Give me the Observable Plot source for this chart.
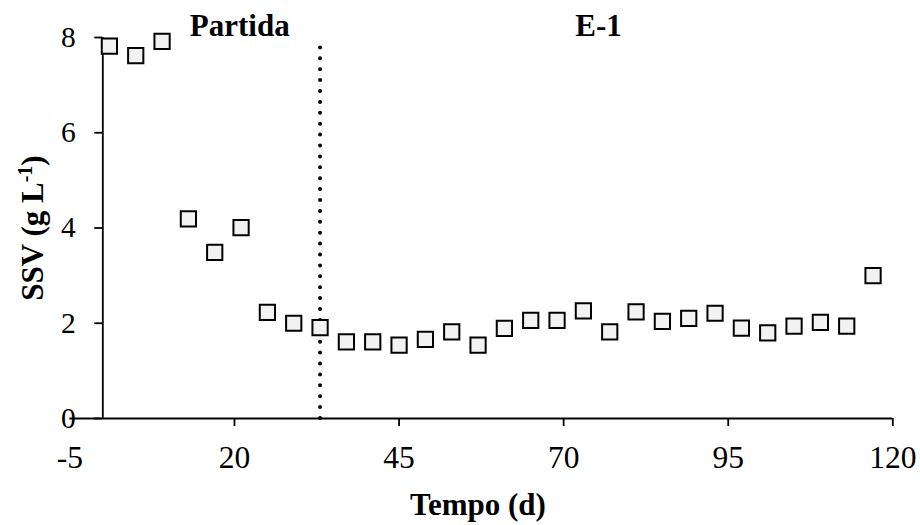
<!DOCTYPE html>
<html><head><meta charset="utf-8">
<script src="https://cdn.jsdelivr.net/npm/d3@7"></script>
<script src="https://cdn.jsdelivr.net/npm/@observablehq/plot@0.6"></script>
<style>body{margin:0;background:#fff}#chart{width:920px;height:525px}</style>
</head><body><div id="chart"></div>
<script>
const days = [1,5,9,13,17,21,25,29,33,37,41,45,49,53,57,61,65,69,73,77,81,85,89,93,97,101,105,109,113,117];
const ssv = [7.82,7.62,7.92,4.19,3.49,4.01,2.23,2.00,1.91,1.61,1.61,1.54,1.66,1.82,1.54,1.89,2.06,2.06,2.26,1.82,2.24,2.04,2.10,2.21,1.90,1.80,1.94,2.02,1.94,3.00];
const phaseBoundary = 33;
const phaseLabels = ["Partida","E-1"];
const phaseX = [20.8, 75.3];
const xTickLabels = [-5,20,45,70,95,120];
const xTickMarks = [20,45,70,95,120];
const yTicks = [0,2,4,6,8];
const xTitle = "Tempo (d)";

const FONT = "'Liberation Serif','Times New Roman',serif";
const points = days.map((d,i)=>({day:d, ssv:ssv[i]}));

const chart = Plot.plot({
  width:920, height:525,
  marginLeft:69.4, marginRight:27.7, marginTop:37, marginBottom:107,
  style:{fontFamily:FONT, background:"#fff", color:"#000", overflow:"visible"},
  x:{domain:[-5,120]},
  y:{domain:[0,8]},
  marks:[
    Plot.ruleY([0], {stroke:"#000", strokeWidth:1.8}),
    Plot.ruleX([0], {y1:0, y2:8, stroke:"#000", strokeWidth:1.8}),
    Plot.axisY({ticks:yTicks, tickSize:8, tickPadding:19, dx:32.9, fontSize:29.5, label:null, strokeWidth:1.8, tickFormat:d=>String(d)}),
    Plot.axisX({ticks:xTickMarks, tickSize:8, text:null, label:null, strokeWidth:1.8}),
    Plot.axisX({ticks:xTickLabels, tickSize:0, tickPadding:27, fontSize:31.5, label:null, tickFormat:d=>String(d)}),
    Plot.ruleX([phaseBoundary], {y1:0, y2:7.85, stroke:"#000", strokeWidth:4, strokeDasharray:"0,10.9", strokeLinecap:"round"}),
    Plot.dot(points, {x:"day", y:"ssv", symbol:"square", r:8.6, fill:"#f2f2f2", stroke:"#000", strokeWidth:2}),
    Plot.text(phaseLabels, {x:phaseX, text:d=>d, frameAnchor:"top", lineAnchor:"bottom", dy:-2, fontSize:31, fontWeight:"bold"})
  ]
});
document.getElementById("chart").appendChild(chart);

const svg = d3.select(chart);
svg.append("text").attr("x",478).attr("y",515).attr("text-anchor","middle")
  .attr("font-family",FONT).attr("font-size",31).attr("font-weight","bold").attr("fill","#000")
  .text(xTitle);
const yt = svg.append("text").attr("transform","translate(43,228) rotate(-90)").attr("text-anchor","middle")
  .attr("font-family",FONT).attr("font-size",31).attr("font-weight","bold").attr("fill","#000");
yt.append("tspan").text("SSV (g L");
yt.append("tspan").attr("baseline-shift","super").attr("font-size",20).text("-1");
yt.append("tspan").text(")");
</script>
</body></html>
